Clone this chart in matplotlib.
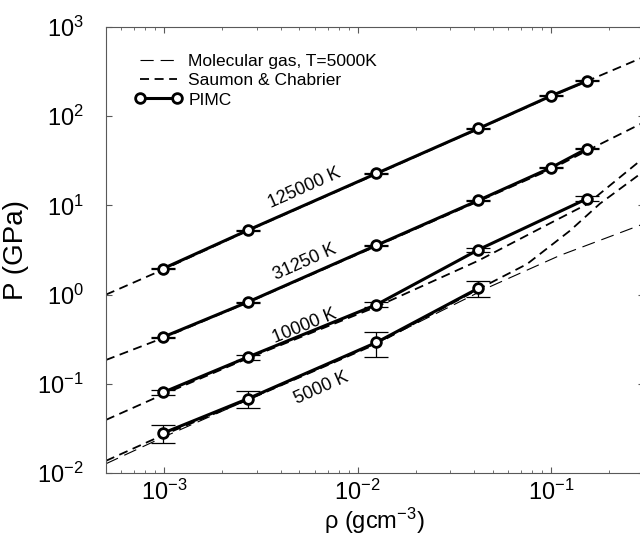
import matplotlib
matplotlib.use('Agg')
import matplotlib.pyplot as plt
from matplotlib.ticker import NullLocator

plt.rcParams['font.family'] = ['Liberation Sans', 'DejaVu Sans']
plt.rcParams['mathtext.fontset'] = 'custom'
plt.rcParams['mathtext.rm'] = 'Liberation Sans'
plt.rcParams['mathtext.it'] = 'Liberation Sans:italic'
plt.rcParams['mathtext.default'] = 'regular'
plt.rcParams['lines.scale_dashes'] = False

# PIMC results, density in g/cm^3, pressure in GPa
rho_pimc = [0.000983, 0.0027, 0.0125, 0.0421, 0.0999, 0.1534]
p_125000 = [1.95, 5.26, 22.8, 72.8, 169, 249]
e_125000 = [0.02, 0.05, 0.2, 0.7, 1.7, 2.5]
p_31250 = [0.333, 0.824, 3.57, 11.4, 26.5, 43.4]
e_31250 = [0.005, 0.012, 0.05, 0.17, 0.5, 0.8]
rho_10000 = [0.000983, 0.0027, 0.0125, 0.0421, 0.1534]
p_10000 = [0.0799, 0.199, 0.771, 3.19, 11.9]
e_10000 = [0.0052, 0.014, 0.046, 0.16, 0.83]
rho_5000 = [0.000983, 0.0027, 0.0125, 0.0421]
p_5000 = [0.0279, 0.0679, 0.291, 1.18]
e_5000 = [0.0063, 0.0145, 0.09, 0.23]

# Saumon & Chabrier EOS
rho_sc = [0.0005, 0.001, 0.0027, 0.0125, 0.042, 0.1, 0.153, 0.3]
sc_125000 = [1.0, 1.93, 5.2, 22.5, 72, 167, 247, 460]
sc_31250 = [0.185, 0.33, 0.815, 3.5, 11.1, 25.5, 41, 85]
sc_10000 = [0.0394, 0.077, 0.193, 0.73, 2.4, 6.4, 10.3, 34]
rho_sc5000 = [0.0005, 0.001, 0.0027, 0.0125, 0.042, 0.075, 0.125, 0.179, 0.3]
sc_5000 = [0.0137, 0.027, 0.066, 0.28, 1.15, 2.2, 5.2, 10.5, 24]

# molecular gas, T=5000K
rho_mol = [0.0005, 0.001, 0.0027, 0.0125, 0.048, 0.111, 0.3]
p_mol = [0.0127, 0.0255, 0.066, 0.285, 1.22, 2.75, 6.2]

temp_labels = ['125000 K', '31250 K', '10000 K', '5000 K']
label_pos = [(0.00533, 15.7), (0.00533, 2.32), (0.00533, 0.445), (0.00647, 0.0897)]
label_rot = [24, 24, 22, 24]


def main():
    fig = plt.figure(figsize=(6.4, 5.36), dpi=100)
    ax = fig.add_axes([106 / 640, 63 / 536, 537.5 / 640, 446 / 536])

    sc_dash = dict(color='black', lw=1.3, dashes=(6.5, 4.0))
    ax.plot(rho_mol, p_mol, color='black', lw=0.8, dashes=(9.5, 5.0),
            label='Molecular gas, T=5000K')
    ax.plot(rho_sc, sc_125000, label='Saumon & Chabrier', **sc_dash)
    ax.plot(rho_sc, sc_31250, **sc_dash)
    ax.plot(rho_sc, sc_10000, **sc_dash)
    ax.plot(rho_sc5000, sc_5000, **sc_dash)

    series = [(rho_pimc, p_125000, e_125000), (rho_pimc, p_31250, e_31250),
              (rho_10000, p_10000, e_10000), (rho_5000, p_5000, e_5000)]
    pimc_style = dict(color='black', lw=2.2, marker='o', ms=7, mew=2.0,
                      mfc='white', mec='black', zorder=5)
    for i, (x, y, e) in enumerate(series):
        ax.errorbar(x, y, yerr=e, fmt='none', ecolor='black', elinewidth=0.9,
                    capsize=8.6, capthick=0.9, zorder=4)
        ax.plot(x, y, label='PIMC' if i == 0 else None, **pimc_style)

    for text, (tx, ty), rot in zip(temp_labels, label_pos, label_rot):
        ax.text(tx, ty, text, rotation=rot, ha='center', va='center',
                rotation_mode='anchor', fontsize=13)

    ax.set_xscale('log')
    ax.set_yscale('log')
    ax.set_xlim(5e-4, 0.3)
    ax.set_ylim(1e-2, 1e3)
    ax.yaxis.set_minor_locator(NullLocator())
    ax.tick_params(which='both', direction='in', top=True, right=True,
                   color='0.35', labelsize=17)
    ax.tick_params(which='major', length=4.5)
    ax.tick_params(which='minor', length=2.5)
    ax.tick_params(axis='x', pad=5)
    ax.tick_params(axis='y', pad=16)
    for sp in ax.spines.values():
        sp.set_color('0.35')

    ax.set_xlabel(r'ρ (gcm$^{-3}$)', fontsize=17, labelpad=0.5)
    ax.set_ylabel('P (GPa)', fontsize=20, labelpad=6)

    ax.legend(loc='upper left', bbox_to_anchor=(0.054, 0.94), frameon=False,
              fontsize=12.5, numpoints=2, handlelength=2.7, handletextpad=0.38,
              labelspacing=0.24, borderpad=0, borderaxespad=0)

    fig.savefig('out.png', dpi=100)


if __name__ == '__main__':
    main()
